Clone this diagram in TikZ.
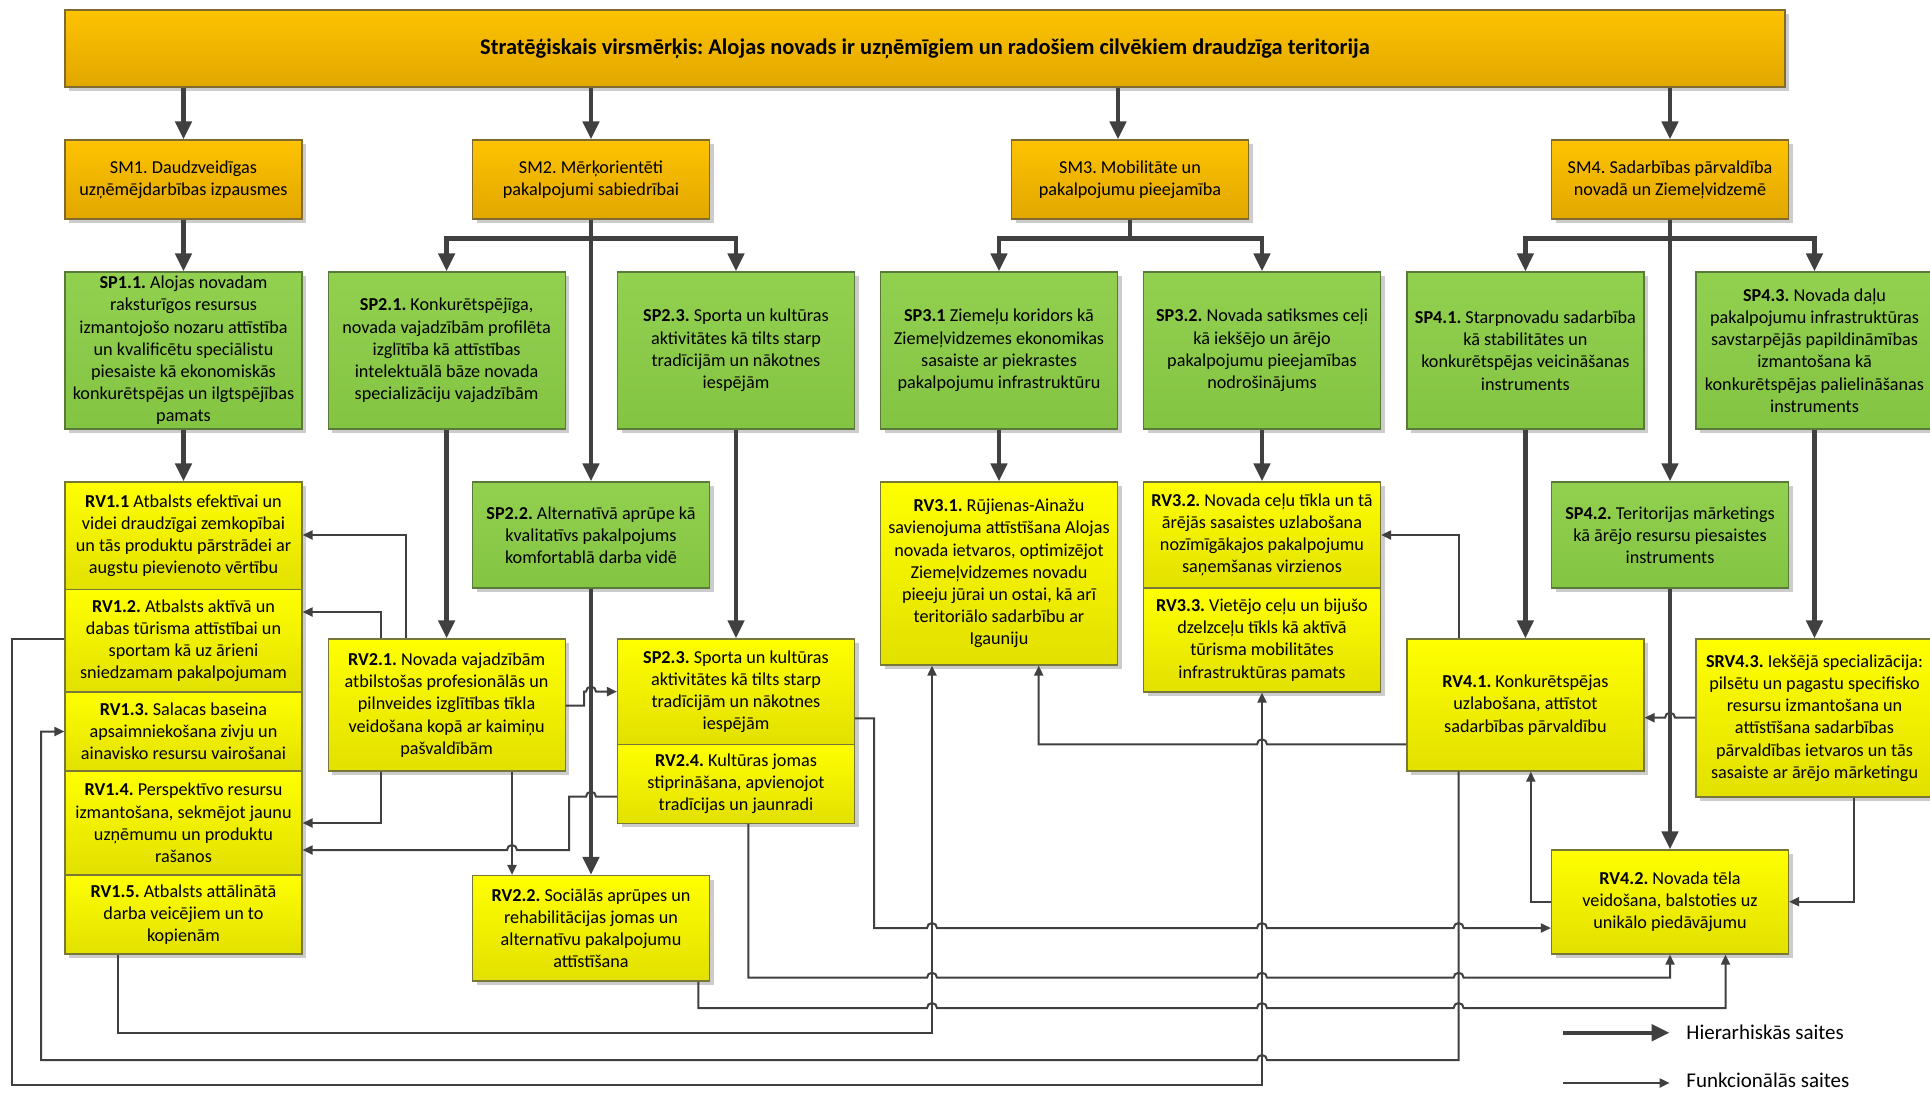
\documentclass[tikz,border=0pt]{standalone}
\usepackage{fontspec}
\setmainfont{Carlito}
\usetikzlibrary{arrows.meta,shadows,calc}
\frenchspacing
\definecolor{lc}{HTML}{404040}
\definecolor{orT}{HTML}{FDC300}
\definecolor{orB}{HTML}{E2A700}
\definecolor{orD}{HTML}{7F6A30}
\definecolor{grT}{HTML}{92D050}
\definecolor{grB}{HTML}{84C443}
\definecolor{grD}{HTML}{5A7A3A}
\definecolor{yeT}{HTML}{FFFF00}
\definecolor{yeB}{HTML}{E2E000}
\definecolor{yeD}{HTML}{77773A}
\newcommand\fsz{\fontsize{9.1}{11.1}\selectfont}
\newcommand\hr[2]{-- (#1-5,#2) arc[start angle=180,end angle=0,radius=2.5pt]}
\newcommand\hl[2]{-- (#1+5,#2) arc[start angle=0,end angle=180,radius=2.5pt]}
\tikzset{
  box/.style={line width=0.6pt, align=center, inner sep=1pt, font=\fsz,
    drop shadow={shadow xshift=2pt,shadow yshift=-2pt,fill=black!20,opacity=1}},
  orbox/.style={box, draw=orD, top color=orT, bottom color=orB},
  grbox/.style={box, draw=grD, top color=grT, bottom color=grB},
  yebox/.style={box, draw=yeD, top color=yeT, bottom color=yeB},
  hier/.style={draw=lc, line width=2.2pt, -{Triangle[length=9pt,width=8pt]}},
  func/.style={draw=lc, line width=1pt, -{Triangle[length=5pt,width=4.5pt]}},
  legtext/.style={anchor=west, font=\fontsize{10.5}{12.5}\selectfont, inner sep=0pt}
}
\begin{document}
\begin{tikzpicture}[x=0.5pt,y=-0.5pt]
\useasboundingbox (0,0) rectangle (1930,1093);
\fill[white] (0,0) rectangle (1930,1093);
\clip (0,0) rectangle (1930,1093);

% ---- top and SM level
\node[orbox, minimum width=860pt, minimum height=38.5pt, font=\fontsize{11.2}{13.5}\selectfont\bfseries] (top) at (925,48.5)
  {Stratēģiskais virsmērķis: Alojas novads ir uzņēmīgiem un radošiem cilvēkiem draudzīga teritorija};
\node[orbox, minimum width=118.5pt, minimum height=39.5pt] (sm1) at (183.5,179.5) {SM1. Daudzveidīgas\\uzņēmējdarbības izpausmes};
\node[orbox, minimum width=118.5pt, minimum height=39.5pt] (sm2) at (591,179.5) {SM2. Mērķorientēti\\pakalpojumi sabiedrībai};
\node[orbox, minimum width=118.5pt, minimum height=39.5pt] (sm3) at (1130,179.5) {SM3. Mobilitāte un\\pakalpojumu pieejamība};
\node[orbox, minimum width=118.5pt, minimum height=39.5pt] (sm4) at (1670,179.5) {SM4. Sadarbības pārvaldība\\novadā un Ziemeļvidzemē};

% ---- SP level
\node[grbox, minimum width=118.5pt, minimum height=78.5pt] (sp11) at (183.5,350.5)
  {\textbf{SP1.1.} Alojas novadam\\raksturīgos resursus\\izmantojošo nozaru attīstība\\un kvalificētu speciālistu\\piesaiste kā ekonomiskās\\konkurētspējas un ilgtspējības\\pamats};
\node[grbox, minimum width=118.5pt, minimum height=78.5pt] (sp21) at (446.6,350.5)
  {\textbf{SP2.1.} Konkurētspējīga,\\novada vajadzībām profilēta\\izglītība kā attīstības\\intelektuālā bāze novada\\specializāciju vajadzībām};
\node[grbox, minimum width=118.5pt, minimum height=78.5pt] (sp23) at (736,350.5)
  {\textbf{SP2.3.} Sporta un kultūras\\aktivitātes kā tilts starp\\tradīcijām un nākotnes\\iespējām};
\node[grbox, minimum width=118.5pt, minimum height=78.5pt] (sp31) at (999,350.5)
  {\textbf{SP3.1} Ziemeļu koridors kā\\Ziemeļvidzemes ekonomikas\\sasaiste ar piekrastes\\pakalpojumu infrastruktūru};
\node[grbox, minimum width=118.5pt, minimum height=78.5pt] (sp32) at (1262,350.5)
  {\textbf{SP3.2.} Novada satiksmes ceļi\\kā iekšējo un ārējo\\pakalpojumu pieejamības\\nodrošinājums};
\node[grbox, minimum width=118.5pt, minimum height=78.5pt] (sp41) at (1525.4,350.5)
  {\textbf{SP4.1.} Starpnovadu sadarbība\\kā stabilitātes un\\konkurētspējas veicināšanas\\instruments};
\node[grbox, minimum width=118.5pt, minimum height=78.5pt] (sp43) at (1814.5,350.5)
  {\textbf{SP4.3.} Novada daļu\\pakalpojumu infrastruktūras\\savstarpējās papildināmības\\izmantošana kā\\konkurētspējas palielināšanas\\instruments};

% ---- second row
\node[grbox, minimum width=118.5pt, minimum height=53pt] (sp22) at (591,535)
  {\textbf{SP2.2.} Alternatīvā aprūpe kā\\kvalitatīvs pakalpojums\\komfortablā darba vidē};
\node[grbox, minimum width=118.5pt, minimum height=53pt] (sp42) at (1670,535)
  {\textbf{SP4.2.} Teritorijas mārketings\\kā ārējo resursu piesaistes\\instruments};

% ---- RV1 stack
\node[yebox, minimum width=118.5pt, minimum height=53.75pt] (rv11) at (183.5,535.75)
  {\textbf{RV1.1} Atbalsts efektīvai un\\videi draudzīgai zemkopībai\\un tās produktu pārstrādei ar\\augstu pievienoto vērtību};
\node[yebox, minimum width=118.5pt, minimum height=51.25pt] (rv12) at (183.5,640.75)
  {\textbf{RV1.2.} Atbalsts aktīvā un\\dabas tūrisma attīstībai un\\sportam kā uz ārieni\\sniedzamam pakalpojumam};
\node[yebox, minimum width=118.5pt, minimum height=39.5pt] (rv13) at (183.5,731.5)
  {\textbf{RV1.3.} Salacas baseina\\apsaimniekošana zivju un\\ainavisko resursu vairošanai};
\node[yebox, minimum width=118.5pt, minimum height=52pt] (rv14) at (183.5,823)
  {\textbf{RV1.4.} Perspektīvo resursu\\izmantošana, sekmējot jaunu\\uzņēmumu un produktu\\rašanos};
\node[yebox, minimum width=118.5pt, minimum height=39.5pt] (rv15) at (183.5,914.5)
  {\textbf{RV1.5.} Atbalsts attālinātā\\darba veicējiem un to\\kopienām};

% ---- RV2
\node[yebox, minimum width=118.5pt, minimum height=66pt] (rv21) at (446.6,705)
  {\textbf{RV2.1.} Novada vajadzībām\\atbilstošas profesionālās un\\pilnveides izglītības tīkla\\veidošana kopā ar kaimiņu\\pašvaldībām};
\node[yebox, minimum width=118.5pt, minimum height=52.7pt] (sp23y) at (736,691.6)
  {\textbf{SP2.3.} Sporta un kultūras\\aktivitātes kā tilts starp\\tradīcijām un nākotnes\\iespējām};
\node[yebox, minimum width=118.5pt, minimum height=39.5pt] (rv24) at (736,783.8)
  {\textbf{RV2.4.} Kultūras jomas\\stiprināšana, apvienojot\\tradīcijas un jaunradi};
\node[yebox, minimum width=118.5pt, minimum height=52.75pt] (rv22) at (591,928.25)
  {\textbf{RV2.2.} Sociālās aprūpes un\\rehabilitācijas jomas un\\alternatīvu pakalpojumu\\attīstīšana};

% ---- RV3
\node[yebox, minimum width=118.5pt, minimum height=91.5pt] (rv31) at (999,573.5)
  {\textbf{RV3.1.} Rūjienas-Ainažu\\savienojuma attīstīšana Alojas\\novada ietvaros, optimizējot\\Ziemeļvidzemes novadu\\pieeju jūrai un ostai, kā arī\\teritoriālo sadarbību ar\\Igauniju};
\node[yebox, minimum width=118.5pt, minimum height=53pt] (rv32) at (1262,535)
  {\textbf{RV3.2.} Novada ceļu tīkla un tā\\ārējās sasaistes uzlabošana\\nozīmīgākajos pakalpojumu\\saņemšanas virzienos};
\node[yebox, minimum width=118.5pt, minimum height=52pt] (rv33) at (1262,640)
  {\textbf{RV3.3.} Vietējo ceļu un bijušo\\dzelzceļu tīkls kā aktīvā\\tūrisma mobilitātes\\infrastruktūras pamats};

% ---- RV4
\node[yebox, minimum width=118.5pt, minimum height=66pt] (rv41) at (1525.4,705)
  {\textbf{RV4.1.} Konkurētspējas\\uzlabošana, attīstot\\sadarbības pārvaldību};
\node[yebox, minimum width=118.5pt, minimum height=79pt] (srv43) at (1814.5,718)
  {\textbf{SRV4.3.} Iekšējā specializācija:\\pilsētu un pagastu specifisko\\resursu izmantošana un\\attīstīšana sadarbības\\pārvaldības ietvaros un tās\\sasaiste ar ārējo mārketingu};
\node[yebox, minimum width=118.5pt, minimum height=52pt] (rv42) at (1670,902)
  {\textbf{RV4.2.} Novada tēla\\veidošana, balstoties uz\\unikālo piedāvājumu};

% ---- hierarchical links
\draw[hier] (top.south -| sm1.north) -- (sm1.north);
\draw[hier] (top.south -| sm2.north) -- (sm2.north);
\draw[hier] (top.south -| 1118,0) -- (sm3.north -| 1118,0);
\draw[hier] (top.south -| sm4.north) -- (sm4.north);
\draw[hier] (sm1.south) -- (sp11.north);
\draw[hier] (sm2.south) -- (sp22.north);
\draw[hier] (sm2.south) -- ++(0,19) -| (sp21.north);
\draw[hier] (sm2.south) -- ++(0,19) -| (sp23.north);
\draw[hier] (sm3.south) -- ++(0,19) -| (sp31.north);
\draw[hier] (sm3.south) -- ++(0,19) -| (sp32.north);
\draw[hier] (sm4.south) -- (sp42.north);
\draw[hier] (sm4.south) -- ++(0,19) -| (sp41.north);
\draw[hier] (sm4.south) -- ++(0,19) -| (sp43.north);
\draw[hier] (sp11.south) -- (rv11.north);
\draw[hier] (sp21.south) -- (rv21.north);
\draw[hier] (sp22.south) -- (rv22.north);
\draw[hier] (sp23.south) -- (sp23y.north);
\draw[hier] (sp31.south) -- (rv31.north);
\draw[hier] (sp32.south) -- (rv32.north);
\draw[hier] (sp41.south) -- (rv41.north);
\draw[hier] (sp42.south) -- (rv42.north);
\draw[hier] (sp43.south) -- (srv43.north);

% ---- functional links
\draw[func] (rv21.north -| 406,0) |- (rv11.east |- 0,535);
\draw[func] (rv21.north -| 381,0) |- (rv12.east |- 0,612);
\draw[func] (rv21.south -| 381,0) |- (rv14.east |- 0,823);
\draw[func] (rv21.south -| 512,0) -- (rv22.north -| 512,0);
\draw[func] (rv21.east |- 0,705.7) -- (584,705.7) -- (584,691.6) \hr{591}{691.6} -- (sp23y.west);
\draw[func] (rv24.west |- 0,796.7) \hl{591}{796.7} -- (569,796.7) -- (569,850) \hl{512}{850} -- (rv14.east |- 0,850);
\draw[func] (sp23y.east |- 0,718.3) -- (874,718.3) -- (874,928) \hr{932}{928} \hr{1262}{928} \hr{1458.6}{928} -- (rv42.west |- 0,928);
\draw[func] (rv24.south -| 748.3,0) -- (748.3,977.7) \hr{932}{977.7} \hr{1262}{977.7} \hr{1458.6}{977.7} -- (1670,977.7) -- (rv42.south);
\draw[func] (rv22.south -| 698.3,0) -- (698.3,1008) \hr{932}{1008} \hr{1262}{1008} \hr{1458.6}{1008} -- (1725.5,1008) -- (rv42.south -| 1725.5,0);
\draw[func] (rv15.south -| 117.7,0) |- (932,1033) -- (rv31.south -| 932,0);
\draw[func] (rv41.south -| 1458.6,0) -- (1458.6,1060) \hl{1262}{1060} -- (41,1060) |- (rv13.west);
\draw[func] (rv12.west |- 0,639) -- (12,639) |- (1262,1085) -- (rv33.south);
\draw[func] (rv41.west |- 0,744.3) \hl{1262}{744.3} -- (1038.7,744.3) -- (rv31.south -| 1038.7,0);
\draw[func] (rv41.north -| 1458.6,0) |- (rv32.east |- 0,535);
\draw[func] (srv43.west |- 0,717.7) \hl{1670}{717.7} -- (rv41.east |- 0,717.7);
\draw[func] (rv42.west |- 0,901.7) -- (1530.8,901.7) -- (rv41.south -| 1530.8,0);
\draw[func] (srv43.south -| 1853.5,0) |- (rv42.east |- 0,901.7);

% ---- legend
\coordinate (lh) at (1563,1032.7);
\coordinate (lf) at (1563,1083);
\node[legtext] (lht) at (1686,1032.7) {Hierarhiskās saites};
\node[legtext] (lft) at (1686,1080) {Funkcionālās saites};
\draw[hier] (lh) -- (lht.west -| 1669.6,0);
\draw[func] (lf) -- (1669.6,1083);
\end{tikzpicture}
\end{document}
